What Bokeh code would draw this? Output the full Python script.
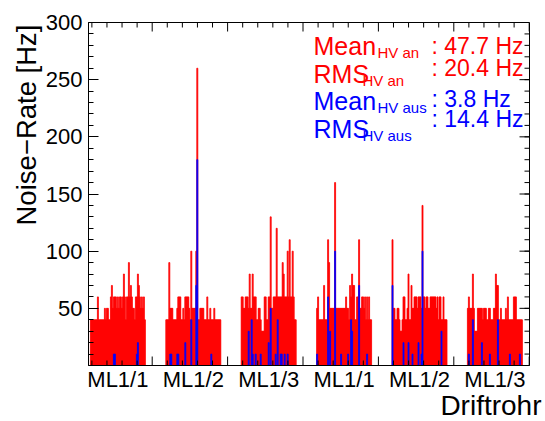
from bokeh.plotting import figure
from bokeh.models import Label, FixedTicker, Range1d, Title, CustomJSTickFormatter
from bokeh.embed import file_html
from bokeh.resources import INLINE

# ---------------- data ----------------
group_labels = ["ML1/1", "ML1/2", "ML1/3", "ML1/1", "ML1/2", "ML1/3"]

red_g1 = [40,40,40,40,40,40,40,60,40,40, 40,40,40,40,50,40,50,50,40,40,
          60,70,50,60,60,60,50,60,50,60, 60,50,60,80,60,40,60,60,90,60,
          70,60,50,50,40,60,60,80,70,60, 50,60,50,60,40]
red_g2 = [40,40,40,90,50,50,50,40,40,40, 40,50,60,60,60,40,40,50,40,60,
          60,60,60,50,40,100,50,50,50,50, 100,260,40,40,50,50,50,50,40,40,
          40,60,40,40,50,40,40,40,50,40, 40,40,40,40,40]
red_g3 = [60,60,50,50,60,60,60,50,80,50, 50,80,60,60,60,40,40,50,50,40,
          30,30,30,60,60,40,40,60,60,130, 50,50,60,60,60,120,60,60,60,60,
          60,90,80,60,60,60,100,60,110,60, 60,100,60,40,40]
red_g4 = [50,60,40,40,40,40,40,70,40,40, 40,110,90,50,50,50,50,50,160,50,
          50,50,50,50,50,50,50,50,50,60, 50,50,40,70,60,80,70,70,40,40,
          60,60,110,50,50,60,60,50,60,40, 60,40,60,40,40]
red_g5 = [110,50,50,40,40,50,50,40,30,30, 40,60,60,40,40,50,80,40,40,70,
          50,50,60,60,60,50,60,60,60,50, 140,60,60,50,60,60,50,50,60,60,
          60,60,60,60,50,60,40,60,60,40, 40,60,40,40,40]
red_g6 = [50,60,50,50,50,80,50,30,30,30, 50,50,50,50,50,40,50,50,50,40,
          40,50,50,40,40,40,50,50,80,70, 70,40,40,50,40,40,40,40,50,40,
          60,40,40,40,40,40,60,60,60,40, 40,40,40,40,40]

blue_g1 = [0,0,0,0,0,0,0,0,0,0, 0,0,0,0,0,0,0,0,0,0,
           0,0,0,10,10,0,0,0,0,0, 0,0,0,0,0,0,0,0,0,0,
           0,0,0,0,0,0,10,20,0,0, 0,0,0,0,0]
blue_g2 = [0,0,0,0,10,10,0,0,0,0, 0,10,10,0,0,0,0,0,0,20,
           0,0,0,0,0,40,0,0,0,0, 70,180,0,0,0,0,0,0,0,0,
           0,0,0,0,0,10,0,0,0,0, 0,0,0,0,0]
blue_g3 = [0,0,0,0,0,0,0,30,0,0, 40,10,0,0,10,0,0,0,0,10,
           0,0,0,0,0,0,0,20,0,50, 0,0,0,0,10,0,40,0,0,10,
           10,0,0,10,0,0,10,0,0,0, 0,0,0,0,0]
blue_g4 = [10,0,0,0,0,0,0,0,0,0, 0,60,0,30,0,0,0,0,100,0,
           0,0,0,0,10,0,0,0,0,0, 0,10,0,0,40,30,0,0,0,0,
           0,0,70,0,0,0,0,0,0,0, 10,0,0,0,0]
blue_g5 = [70,0,0,0,0,0,0,0,0,0, 0,20,0,0,0,0,20,0,0,0,
           10,0,0,0,0,0,20,0,0,10, 100,0,0,0,0,0,0,0,0,0,
           0,0,0,0,0,0,0,0,0,30, 0,0,0,0,0]
blue_g6 = [0,10,0,0,0,40,0,0,0,0, 0,0,0,0,20,0,0,0,0,0,
           0,0,10,0,0,0,0,0,0,0, 40,0,0,0,0,0,0,0,0,0,
           0,0,10,0,0,0,0,0,0,0, 0,0,10,0,0]

red_groups = [red_g1, red_g2, red_g3, red_g4, red_g5, red_g6]
blue_groups = [blue_g1, blue_g2, blue_g3, blue_g4, blue_g5, blue_g6]

stat_names = ["Mean", "RMS", "Mean", "RMS"]
stat_subs = ["HV an", "HV an", "HV aus", "HV aus"]
stat_values = [": 47.7 Hz", ": 20.4 Hz", ": 3.8 Hz", ": 14.4 Hz"]
y_ticks = [50, 100, 150, 200, 250, 300]
y_minor = list(range(10, 300, 10))

# ---------------- layout ----------------
FONT = "Liberation Sans"
RED = "#ff0000"
BLUE = "#0000ff"
X_MAX = 441.0
Y_MAX = 300.0
GROUP_PITCH = 75.4
GROUP_START = 1.9
TICK_OFFSET = 63.7
PX = 1.0                 # data units per pixel (x)
PY = Y_MAX / 343.0       # data units per pixel (y)

p = figure(width=545, height=421, x_range=Range1d(0, X_MAX), y_range=Range1d(0, Y_MAX),
           output_backend="svg", toolbar_location=None,
           min_border_left=88, min_border_right=16, min_border_top=22, min_border_bottom=56)
p.xgrid.visible = False
p.ygrid.visible = False
p.outline_line_color = "black"
p.outline_line_width = 1
p.background_fill_color = "white"
p.border_fill_color = "white"

# histograms
for gi, (rv, bv) in enumerate(zip(red_groups, blue_groups)):
    x0 = GROUP_START + gi * GROUP_PITCH
    left = [x0 + i for i in range(len(rv))]
    p.quad(left=left, right=[x + 1 for x in left], bottom=0, top=rv,
           fill_color=RED, line_color=RED, line_width=0.8)
    bl = [x0 + i for i in range(len(bv)) if bv[i] > 0]
    bt = [v for v in bv if v > 0]
    p.quad(left=bl, right=[x + 1 for x in bl], bottom=0, top=bt,
           fill_color=BLUE, line_color=BLUE, line_width=0.8)

# ROOT-style inward ticks on bottom, top and right edges
x_major = [TICK_OFFSET + k * GROUP_PITCH for k in range(0, 6)]
x_minor = [TICK_OFFSET + (k / 5.0) * GROUP_PITCH for k in range(-4, 26) if k % 5 != 0]
x_major = [t for t in x_major if 0 <= t <= X_MAX]
x_minor = [t for t in x_minor if 0 <= t <= X_MAX]
for ticks, ln in ((x_major, 9), (x_minor, 5)):
    p.segment(x0=ticks, y0=[0] * len(ticks), x1=ticks, y1=[ln * PY] * len(ticks),
              line_color="black", line_width=1)
    p.segment(x0=ticks, y0=[Y_MAX] * len(ticks), x1=ticks, y1=[Y_MAX - ln * PY] * len(ticks),
              line_color="black", line_width=1)
for ticks, ln in ((y_ticks, 10), (y_minor, 5)):
    p.segment(x0=[X_MAX] * len(ticks), y0=ticks, x1=[X_MAX - ln * PX] * len(ticks), y1=ticks,
              line_color="black", line_width=1)

# left axis (real axis: labels + inward ticks)
p.yaxis.ticker = FixedTicker(ticks=y_ticks, minor_ticks=y_minor)
p.yaxis.axis_line_color = "black"
p.yaxis.major_tick_line_color = "black"
p.yaxis.minor_tick_line_color = "black"
p.yaxis.major_tick_in = 10
p.yaxis.major_tick_out = 0
p.yaxis.minor_tick_in = 5
p.yaxis.minor_tick_out = 0
p.yaxis.major_label_text_font = FONT
p.yaxis.major_label_text_font_size = "22px"
p.yaxis.major_label_text_color = "black"
p.yaxis.major_label_standoff = 6

# bottom axis: group names at group centres
group_centers = [GROUP_START + gi * GROUP_PITCH + len(red_groups[gi]) / 2.0 for gi in range(6)]
p.xaxis.ticker = FixedTicker(ticks=group_centers, minor_ticks=[])
p.xaxis.formatter = CustomJSTickFormatter(args=dict(labels=group_labels), code="return labels[index];")
p.xaxis.axis_line_color = "black"
p.xaxis.major_tick_in = 0
p.xaxis.major_tick_out = 0
p.xaxis.minor_tick_in = 0
p.xaxis.minor_tick_out = 0
p.xaxis.major_label_text_font = FONT
p.xaxis.major_label_text_font_size = "22px"
p.xaxis.major_label_text_color = "black"
p.xaxis.major_label_standoff = 1

# axis titles
p.add_layout(Title(text="Driftrohr", align="right", offset=-12, standoff=-9,
                   vertical_align="top",
                   text_font=FONT, text_font_size="28px", text_font_style="normal",
                   text_color="black"), "below")
p.add_layout(Title(text="Noise\u2212Rate [Hz]", align="right", offset=2, standoff=2,
                   text_font=FONT, text_font_size="27.5px", text_font_style="normal",
                   text_color="black"), "left")

def dx(px):
    return (px - 88) * PX

def dy(py):
    return (365 - py) * PY

# statistics box (centre lines in pixels, converted to data units)
main_mid = [45, 73, 100, 128]
sub_mid = [52, 80, 107, 135]
val_mid = [45, 67, 98, 118]
sub_x = [377, 362, 377, 362]
colors = [RED, RED, BLUE, BLUE]
for k in range(4):
    p.add_layout(Label(x=dx(313), y=dy(main_mid[k]), text=stat_names[k], text_font=FONT,
                       text_font_size="25px", text_color=colors[k], text_baseline="middle"))
    p.add_layout(Label(x=dx(sub_x[k]), y=dy(sub_mid[k]), text=stat_subs[k], text_font=FONT,
                       text_font_size="15px", text_color=colors[k], text_baseline="middle"))
    p.add_layout(Label(x=dx(431), y=dy(val_mid[k]), text=stat_values[k], text_font=FONT,
                       text_font_size="23px", text_color=colors[k], text_baseline="middle"))

open("out.html", "w").write(file_html(p, INLINE))
